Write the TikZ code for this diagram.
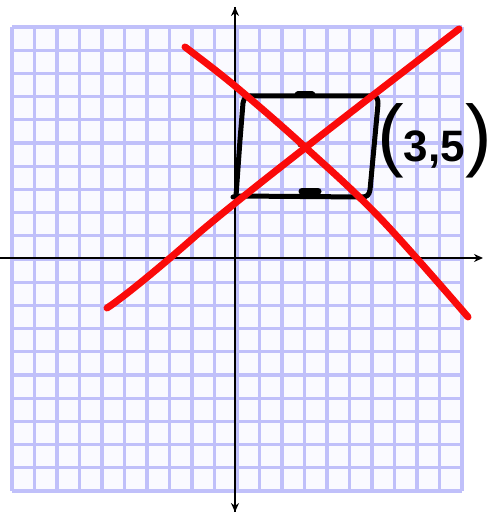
\documentclass[tikz,border=0pt]{standalone}
\usepackage{fontspec}
\setmainfont{Liberation Sans}
\usetikzlibrary{arrows.meta}
\definecolor{gridc}{RGB}{192,192,250}
\definecolor{cellc}{RGB}{250,250,255}
\definecolor{redc}{RGB}{250,10,10}
\tikzset{
  gridline/.style={draw=gridc, line width=3.2pt},
  axisline/.style={draw=black, line width=2.4pt},
  tipstyle/.style={-{Stealth[length=9pt,width=8pt]}},
  boxline/.style={draw=black, line width=5pt, line cap=round, line join=round},
  redline/.style={draw=redc, line width=7pt, line cap=round, line join=round},
  labeltext/.style={inner sep=0pt, anchor=base west}
}
\begin{document}
\begin{tikzpicture}[x=1pt,y=-1pt]
\useasboundingbox (0,0) rectangle (494,513);
\fill[white] (0,0) rectangle (494,513);
% grid
\fill[cellc] (12,27) rectangle (462,491);
\foreach \i in {0,...,20}{
  \draw[gridline] ({12+22.5*\i},27) -- ({12+22.5*\i},491);
  \draw[gridline] (12,{27+23.2*\i}) -- (462,{27+23.2*\i});
}
% axes
\coordinate (ytop) at (235,7);
\coordinate (ybot) at (235,512);
\coordinate (xleft) at (0,258);
\coordinate (xright) at (483,258);
\draw[axisline,tipstyle] (ybot) -- (ytop);
\draw[axisline,tipstyle] (ytop) -- (ybot);
\draw[axisline,tipstyle] (xleft) -- (xright);
% hand-drawn box
\draw[boxline] (250,96) -- (372,96) .. controls (377,96) and (378,99) .. (378,104)
  -- (370,190) .. controls (369,195) and (367,197) .. (362,197) -- (238,196)
  -- (233,197);
\draw[boxline] (236,196) -- (240,140) -- (243,103) .. controls (244,98) and (246,96) .. (250,96);
\draw[boxline, line width=7pt] (298,95) -- (312,95);
\draw[boxline, line width=7pt] (302,191) -- (318,191);
\draw[boxline] (300,145) -- (304,145);
% label
\node[labeltext] (lbl) at (377,161) {{\fontsize{80}{80}\selectfont(}{\bfseries\fontsize{44}{44}\selectfont 3,5}{\fontsize{80}{80}\selectfont)}};
% red cross
\draw[redline] plot[smooth, tension=0.6] coordinates {(185,47) (235,86) (305,147) (380,218) (468,317)};
\draw[redline] (107,308) .. controls (112,305) and (140,285) .. (200,232) .. controls (240,198) and (330,128) .. (459,29);
\end{tikzpicture}
\end{document}
